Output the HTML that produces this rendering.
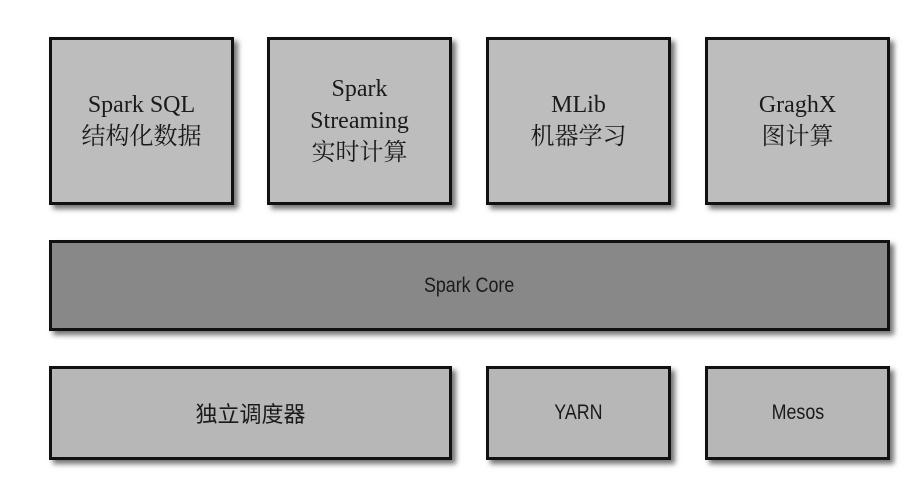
<!DOCTYPE html>
<html><head><meta charset="utf-8"><style>
body{margin:0;width:919px;height:493px;background:#fff;position:relative;overflow:hidden}
.b{position:absolute;box-sizing:border-box;border:3px solid #111;box-shadow:4px 4px 5px rgba(0,0,0,.55);display:flex;align-items:center;justify-content:center;text-align:center;color:#1a1a1a}
.t{background:#bdbdbd;font-family:"Liberation Serif","Noto Serif CJK SC",serif;font-size:24px;line-height:32px;top:37px;height:168px;width:185px}
.c{background:#888;left:49px;top:240px;width:841px;height:91px}
.l{background:#b7b7b7;top:366px;height:94px}
.s{font-family:"Liberation Sans Narrow","Liberation Sans","Noto Sans CJK SC",sans-serif;font-size:21px;display:inline-block;transform:scaleX(.85)}
</style></head><body>
<div class="b t" style="left:49px">Spark SQL<br>结构化数据</div>
<div class="b t" style="left:267px">Spark<br>Streaming<br>实时计算</div>
<div class="b t" style="left:486px">MLib<br>机器学习</div>
<div class="b t" style="left:705px">GraghX<br>图计算</div>
<div class="b c"><span class="s">Spark Core</span></div>
<div class="b l" style="left:49px;width:403px"><span class="s" style="font-family:'Noto Sans CJK SC',sans-serif;transform:none;font-size:22px">独立调度器</span></div>
<div class="b l" style="left:486px;width:185px"><span class="s">YARN</span></div>
<div class="b l" style="left:705px;width:185px"><span class="s">Mesos</span></div>
</body></html>
